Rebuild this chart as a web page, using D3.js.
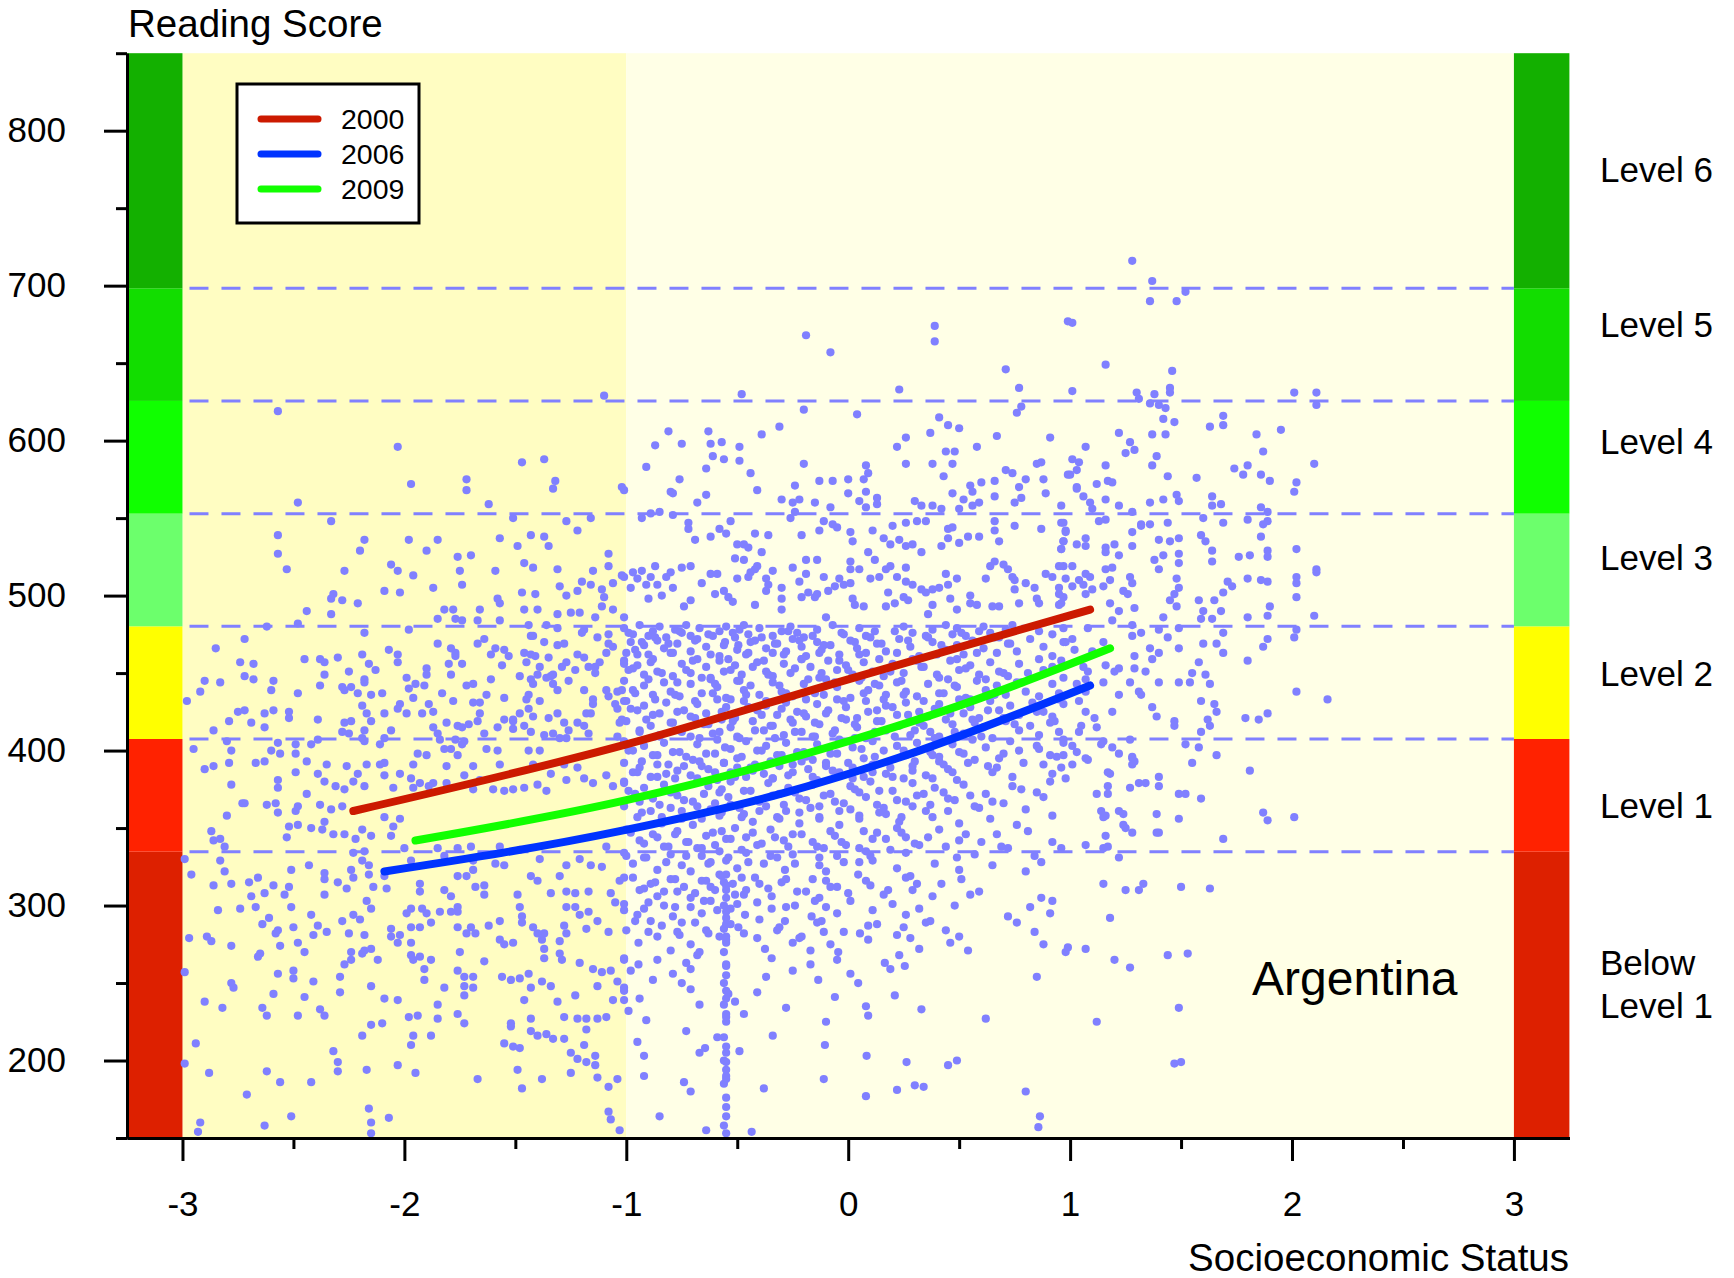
<!DOCTYPE html>
<html><head><meta charset="utf-8">
<script src="https://cdn.jsdelivr.net/npm/d3@7"></script>
<style>body{margin:0;background:#fff}svg{display:block;font-family:"Liberation Sans",Arial,sans-serif}</style>
</head><body><svg id="c" width="1734" height="1278"></svg>
<script>
// ---------------- data ----------------
const levelBounds = [150, 334.75, 407.47, 480.18, 552.89, 625.61, 698.32, 850];
const levelColors = ["#DD2000","#FF2200","#FFFF00","#6CFF6C","#10FF00","#12DD00","#13B000"];
const levelNames = [["Below","Level 1"],["Level 1"],["Level 2"],["Level 3"],["Level 4"],["Level 5"],["Level 6"]];
const levelLabelScores = [250,365,450,525,600,675,775];
const cutScores = [334.75, 407.47, 480.18, 552.89, 625.61, 698.32];
const xTicks = [-3,-2,-1,0,1,2,3];
const xMinorTicks = [-2.5,-1.5,-0.5,0.5,1.5,2.5];
const yTicks = [200,300,400,500,600,700,800];
const yMinorTicks = [150,250,350,450,550,650,750,850];
const years = ["2000","2006","2009"];
const yearColors = ["#CC1A00","#0033FF","#11FF00"];
const ses2000 = [-2.23,-1.0,0,1.09];
const score2000 = [361,404,446,491];
const ses2006 = [-2.09,-1.03,-0.28,0.22,1.09];
const score2006 = [322,348,373,395,442];
const ses2009 = [-1.95,-1.0,0,0.5,1.18];
const score2009 = [342,368,406,429,466];
const country = "Argentina";

const ptsLeftUpper = `-1.10,629 -2.57,619 -2.03,596 -1.97,572 -1.72,575 -1.72,568 -1.47,586 -1.37,588 -1.32,574 -1.33,569 -1.02,570 -2.48,560 -1.62,559 -2.33,548 -1.51,550 -1.27,548 -1.16,550 -1.22,542 -2.57,539 -2.57,527 -2.53,517 -2.18,536 -2.20,529 -2.27,516 -1.98,536 -1.90,529 -1.85,536 -2.06,520 -2.03,516 -1.96,513 -1.76,525 -1.70,526 -1.75,516 -1.74,507 -1.57,537 -1.49,532 -1.43,539 -1.37,538 -1.35,532 -1.46,521 -1.42,518 -1.31,517 -1.59,516 -1.08,527 -1.08,519 -1.15,516 -1.20,509 -1.16,507 -1.06,508 -1.02,513 -1.30,506 -1.27,500 -1.22,503 -1.11,504 -1.10,499 -1.11,493 -1.06,491 -1.01,486 -1.14,486 -1.25,489 -1.21,489 -1.31,488 -1.47,502 -1.41,501 -1.46,491 -1.40,491 -1.58,498 -1.57,495 -1.66,491 -1.57,484 -1.67,484 -1.78,491 -1.82,491 -1.85,485 -1.77,485 -1.74,484 -1.87,505 -2.09,503 -2.02,502 -2.21,495 -2.33,498 -2.32,501 -2.28,497 -2.33,488 -2.44,490 -2.48,482 -2.62,480 -2.18,476 -1.98,478 -2.72,472 -2.85,466 -2.74,457 -2.68,456 -2.72,448 -2.68,446 -2.90,445 -2.83,444 -2.92,438 -2.98,432 -2.59,445 -2.60,439 -2.48,437 -2.45,459 -2.38,459 -2.36,457 -2.36,449 -2.38,442 -2.30,460 -2.25,451 -2.28,441 -2.24,441 -2.27,439 -2.19,462 -2.16,456 -2.13,452 -2.18,446 -2.18,444 -2.21,437 -2.15,436 -2.10,437 -2.07,465 -2.03,462 -2.03,457 -1.99,447 -1.98,440 -1.95,443 -1.96,434 -1.90,449 -1.91,442 -1.90,453 -1.85,469 -1.79,466 -1.77,463 -1.77,461 -1.80,456 -1.79,449 -1.74,456 -1.72,442 -1.69,443 -1.83,437 -1.78,432 -1.67,469 -1.64,472 -1.59,466 -1.55,465 -1.53,461 -1.61,462 -1.56,455 -1.61,446 -1.63,436 -1.55,434 -1.69,431 -1.66,424
-1.46,463 -1.43,462 -1.41,461 -1.45,457 -1.39,454 -1.35,460 -1.33,449 -1.34,448 -1.29,454 -1.27,457 -1.22,462 -1.19,460 -1.23,452 -1.17,454 -1.14,454 -1.14,450
-1.48,448 -1.43,446 -1.42,443 -1.40,449 -1.36,447 -1.33,443 -1.31,439 -1.26,445 -1.44,436 -1.45,433 -1.39,432 -1.44,427 -1.19,439 -1.15,433 -1.15,430 -1.18,424 -1.16,424 -1.09,439 -1.04,438 -1.02,439 -1.08,435 -1.05,430 -1.01,432 -1.04,427 -1.02,420 -1.03,418 -1.08,469 -1.06,467 -1.09,463 -1.00,463 -1.12,457 -1.20,476 -1.19,478 -1.13,473 -1.08,475 -1.01,456 -1.36,481 -1.31,479 -1.37,470 -1.31,468 -1.28,469 -1.44,481 -1.43,474 -1.42,474
-1.48,424 -1.42,422 -1.46,416 -1.51,419 -1.35,421 -1.31,424 -1.28,418 -1.26,413 -1.22,418 -1.19,416 -1.17,411 -1.43,412 -1.37,410 -1.33,411 -1.30,408 -1.27,408 -1.04,409 -1.66,431 -1.67,419 -1.64,411 -1.71,417 -1.58,415 -1.55,420 -1.51,420 -1.51,414 -1.87,415 -1.85,411 -1.84,407 -1.81,418 -1.76,416 -1.74,415 -1.77,407 -1.73,406 -1.89,430 -1.87,425 -1.92,424 -2.02,430 -2.03,427 -1.99,424 -2.09,424 -2.19,429 -2.17,424 -2.15,419 -2.18,413 -2.27,418 -2.24,419 -2.28,412 -2.25,411 -2.19,408 -2.18,406 -2.11,404 -2.06,413 -2.09,408 -2.39,420 -2.39,407 -2.52,425 -2.52,421 -2.63,424 -2.59,426 -2.75,425 -2.72,426 -2.79,419 -2.86,413 -2.69,418 -2.63,415 -2.57,405 -2.49,404 -2.42,404 -2.80,406 -2.95,401 -2.78,400 -2.60,400 -2.56,398 -2.49,398 -1.94,398 -1.90,397 -1.82,401 -1.79,401 -1.74,404 -1.76,397 -1.63,401 -1.58,400 -1.44,400 -1.39,400`;

const ptsLeftLower = `-2.90,388 -2.86,390 -2.79,392 -2.67,392 -2.63,393 -2.49,386 -2.44,393 -2.39,385 -2.36,380 -2.35,391 -2.31,377 -2.26,390 -2.21,385 -2.23,380 -2.18,377 -2.17,391 -2.11,391 -2.09,384 -2.05,376 -2.02,385 -1.97,382 -1.96,376 -1.93,379 -1.89,377 -1.87,379 -1.81,379 -1.73,384 -1.69,375 -1.66,381 -1.60,375 -1.55,374 -1.51,375 -1.46,376 -1.40,378 -1.36,374 -1.34,385 -1.27,381 -1.22,389 -1.19,382 -1.15,379 -1.09,384 -1.06,377 -1.01,380 -1.28,391 -1.42,391 -1.57,391 -1.69,390 -1.81,390 -1.96,391 -2.09,392
-2.78,378 -2.73,366 -2.62,365 -2.57,381 -2.57,376 -2.58,366 -2.57,360 -2.48,364 -2.49,361 -2.44,372 -2.38,365 -2.36,354 -2.33,362 -2.28,364 -2.27,375 -2.52,351 -2.48,352 -2.42,350 -2.37,349 -2.32,346 -2.27,346 -2.22,343 -2.19,349 -2.15,345 -2.09,357 -2.06,345 -2.05,351 -2.02,356 -2.87,348 -2.86,342 -2.83,343 -2.81,338 -2.80,358 -2.72,366 -2.53,344
-2.99,330 -2.96,320 -2.83,329 -2.81,322 -2.78,314 -2.86,313 -2.70,315 -2.66,318 -2.63,308 -2.59,313 -2.54,307 -2.52,312 -2.51,323 -2.43,326 -2.36,321 -2.36,317 -2.36,307 -2.30,315 -2.26,311 -2.24,323 -2.23,318 -2.19,329 -2.16,326 -2.16,320 -2.23,334 -2.18,335 -2.14,312 -2.08,311 -2.09,319 -2.00,337 -1.97,329 -1.93,314 -1.93,309 -1.85,337 -1.82,332 -1.76,337 -1.70,338 -1.69,329 -1.69,323 -1.68,312 -1.64,313 -1.64,307 -1.57,338 -1.55,326 -1.59,327 -1.43,319 -1.40,316 -1.30,319 -1.27,326 -1.21,330 -1.16,326 -1.11,325 -1.09,338 -1.00,332 -1.03,316 -1.39,330 -1.48,336 -1.34,308 -1.27,309 -1.23,308 -1.17,309 -1.07,308 -1.49,307 -1.48,299 -1.76,319 -1.72,319 -1.82,310 -1.79,306 -1.84,296 -1.79,296 -1.76,296 -1.76,299 -1.97,298 -1.99,295 -1.92,298 -1.90,295 -1.88,289 -1.97,286 -1.93,286 -2.06,285 -2.06,280 -2.02,281 -2.03,276 -1.97,276
-2.97,279 -2.89,280 -2.87,277 -2.78,274 -2.84,297 -2.74,298 -2.69,306 -2.67,299 -2.64,288 -2.61,292 -2.57,284 -2.58,282 -2.56,274 -2.51,299 -2.50,286 -2.48,276 -2.45,270 -2.42,294 -2.39,287 -2.41,281 -2.35,283 -2.28,290 -2.25,282 -2.23,294 -2.20,291 -2.17,303 -2.15,298 -2.18,281 -2.18,271 -2.15,272 -2.19,269 -2.24,270 -2.24,265 -2.27,262 -2.12,265 -2.65,269 -2.66,267 -2.57,256 -2.50,258 -2.50,253 -2.41,251 -2.29,254 -2.29,244 -2.78,250 -2.77,247 -2.90,238 -2.82,234 -2.99,257 -2.64,234 -2.62,229 -2.59,243 -2.45,241 -2.48,229 -2.38,233 -2.36,229 -2.15,248 -2.09,240 -2.03,239 -2.15,223 -2.10,224 -2.19,216 -1.98,228 -1.94,229 -1.85,236 -1.85,227 -1.96,216 -1.88,216 -1.97,210 -1.76,230 -1.73,224 -1.73,242 -1.73,248 -1.69,247 -1.73,254 -1.69,254 -1.76,258 -1.82,247 -1.91,259 -1.91,252 -1.96,265 -1.93,267 -1.88,265 -1.97,268 -1.75,270 -1.64,264 -1.56,254 -1.52,252 -1.48,253 -1.44,256 -1.43,247 -1.38,251 -1.34,248 -1.46,239 -1.43,227 -1.52,224 -1.52,222 -1.43,219 -1.40,216 -1.36,217 -1.33,214 -1.28,214 -1.31,238 -1.28,228 -1.23,242 -1.22,227 -1.18,227 -1.13,227 -1.18,220 -1.55,211 -1.51,209 -1.48,208 -1.25,205 -1.22,201 -1.18,199 -1.14,203 -1.14,197 -1.19,210 -1.15,259 -1.11,257 -1.07,258 -1.13,248 -1.04,251 -1.01,247 -1.01,239 -1.06,239 -1.09,228 -1.01,265 -1.21,263 -1.29,265 -1.30,269 -1.37,266 -1.37,272 -1.38,278 -1.30,277 -1.27,282 -1.28,287 -1.21,294 -1.17,296 -1.13,290 -1.08,283 -1.05,302 -1.01,297 -1.18,285 -1.27,299 -1.23,299 -1.42,286 -1.40,282 -1.37,282 -1.47,293 -1.47,289 -1.57,278 -1.55,275 -1.51,276 -1.62,287 -1.57,290 -1.70,286 -1.72,282 -1.68,282 -1.76,286
-2.94,211 -2.88,192 -2.99,198 -2.71,178 -2.62,193 -2.56,186 -2.42,186 -2.32,206 -2.30,199 -2.30,193 -2.17,194 -2.03,197 -1.95,192 -1.67,188 -1.49,194 -1.47,182 -1.38,188 -1.25,192 -1.13,189 -1.08,183 -1.04,188 -2.92,160 -2.93,154 -2.63,158 -2.51,164 -2.16,169 -2.15,160 -2.15,153 -2.07,163 -1.08,167 -1.07,162 -1.03,155`;

const ptsMidUpper = `-0.19,668 -0.08,657 0.39,674 0.39,664 0.71,646 0.77,634 0.99,677 -0.48,630 0.23,633 -0.20,620 0.04,617 0.76,618 0.78,622 -0.81,606 -0.63,606 -0.87,597 -0.75,598 -0.62,598 -0.57,599 -0.61,590 -0.56,588 -0.49,596 -0.49,587 -0.39,604 -0.31,609 -0.91,583 -0.64,582 -0.76,575 -0.44,579 -0.20,585 -0.80,567 -0.79,566 -0.68,560 -0.64,565 -0.41,568 -1.01,568 -0.30,562 -0.25,560 -0.22,562 -0.24,571 -0.13,574 -0.07,574 0.00,575 0.07,575 0.09,579 0.08,584 -0.15,560 -0.08,557 0.00,566 0.05,561 0.08,567 0.13,563 0.13,559 0.08,557 0.22,596 0.26,602 0.26,585 0.37,605 0.41,615 0.45,610 0.50,608 0.44,593 0.48,593 0.47,585 0.38,585 0.58,596 0.67,603 0.91,602 0.43,577 0.55,571 0.60,573 0.56,567 0.59,560 0.30,561 0.33,558 0.38,558 0.42,556 0.47,566 0.52,562 0.66,574 0.66,564 0.71,581 0.74,579 0.80,575 0.77,570 0.78,563 0.75,560 0.85,585 0.87,586 0.88,575 0.89,566 0.96,558 0.99,578 0.50,556 0.56,558
-0.93,550 -0.89,553 -0.85,554 -0.79,552 -0.72,547 -0.72,543 -0.69,536 -0.62,538 -0.58,543 -0.55,540 -0.53,548 -0.50,533 -0.47,533 -0.45,531 -0.42,540 -0.39,528 -0.36,539 -0.26,550 -0.24,554 -0.21,539 -0.13,542 -0.11,548 -0.07,546 -0.05,544 0.01,541 0.02,535 0.11,542 0.16,537 0.19,533 0.20,545 0.23,536 0.26,547 0.31,548 0.35,548 0.26,532 0.29,533 0.33,528 0.42,532 0.45,543 0.47,544 0.45,537 0.50,534 0.54,538 0.59,538 0.66,548 0.66,542 0.68,535 0.75,545 0.87,543 0.96,547 0.97,535 0.96,530 0.98,542
-1.01,512 -0.97,515 -0.93,516 -0.95,511 -0.91,507 -0.89,512 -0.87,519 -0.86,507 -0.84,500 -0.80,515 -0.79,505 -0.75,518 -0.71,519 -0.71,497 -0.62,514 -0.59,514 -0.56,503 -0.54,499 -0.51,524 -0.50,511 -0.47,523 -0.45,512 -0.42,517 -0.42,494 -0.41,519 -0.37,511 -0.36,507 -0.34,516 -0.30,505 -0.30,498 -0.25,518 -0.21,499 -0.19,523 -0.19,514 -0.18,502 -0.14,523 -0.14,501 -0.11,512 -0.09,503 -0.10,486 -0.04,511 -0.02,507 0.01,522 0.01,517 0.01,508 0.02,498 0.05,517 0.07,493 0.09,528 0.12,523 0.14,512 0.17,517 0.17,493 0.19,519 0.21,495 0.22,512 0.25,499 0.26,509 0.26,518 0.29,507 0.33,504 0.35,502 0.38,504 0.41,505 0.38,494 0.44,514 0.46,498 0.49,511 0.49,491 0.55,495 0.58,494 0.62,511 0.64,519 0.66,522 0.68,493 0.70,520 0.72,517 0.74,512 0.75,504 0.77,495 0.80,508 0.84,505 0.86,495 0.89,514 0.92,512 0.95,501 0.97,519 0.96,495 0.98,511
-1.01,479 -0.97,475 -0.94,481 -0.90,474 -0.88,477 -0.85,480 -0.82,473 -0.78,478 -0.75,476 -0.73,481 -0.71,474 -0.67,479 -0.63,475 -0.58,477 -0.55,480 -0.51,473 -0.49,478 -0.47,481 -0.45,475 -0.40,479 -0.34,474 -0.30,477 -0.26,480 -0.23,476 -0.20,473 -0.14,478 -0.07,481 -0.02,475 0.05,479 0.08,474 0.12,477 0.25,480 0.29,476 0.36,473 0.38,478 0.44,481 0.47,475 0.49,479 0.53,474 0.59,477 0.61,480 0.64,476 0.68,473 0.71,478 0.74,481 0.92,475 0.97,479
-0.98,470 -0.96,465 -0.92,468 -0.90,462 -0.86,471 -0.83,466 -0.80,463 -0.77,469 -0.71,464 -0.68,472 -0.64,467 -0.58,461 -0.555,470 -0.50,465 -0.495,468 -0.46,462 -0.42,471 -0.37,466 -0.34,463 -0.32,469 -0.28,464 -0.25,472 -0.21,467 -0.19,461 -0.14,470 -0.12,465 -0.08,468 -0.04,462 0.01,471 0.04,466 0.08,463 0.13,469 0.17,464 0.23,472 0.28,467 0.32,461 0.38,470 0.44,465 0.49,468 0.52,462 0.56,471 0.61,466 0.67,463 0.72,469 0.76,464 0.82,472 0.88,467 0.92,461 0.97,470
-1.01,458 -0.99,452 -0.95,455 -0.92,449 -0.89,457 -0.86,451 -0.79,448 -0.75,456 -0.71,450 -0.68,459 -0.64,454 -0.62,447 -0.58,458 -0.53,452 -0.51,455 -0.48,449 -0.41,457 -0.37,451 -0.34,448 -0.29,456 -0.26,450 -0.21,459 -0.17,454 -0.13,447 -0.09,458 -0.05,452 -0.01,455 0.02,449 0.07,457 0.11,451 0.16,448 0.20,456 0.25,450 0.29,459 0.34,454 0.41,447 0.46,458 0.50,452 0.55,455 0.59,449 0.64,457 0.68,451 0.72,448 0.77,456 0.81,450 0.86,459 0.92,454 0.97,447
-1.01,445 -0.97,439 -0.92,442 -0.88,436 -0.83,444 -0.80,438 -0.76,435 -0.71,443 -0.66,437 -0.62,446 -0.59,441 -0.55,434 -0.50,445 -0.47,439 -0.44,442 -0.40,436 -0.34,444 -0.30,438 -0.25,435 -0.20,443 -0.15,437 -0.10,446 -0.05,441 0.01,434 0.05,445 0.09,439 0.14,442 0.17,436 0.22,444 0.26,438 0.31,435 0.36,443 0.41,437 0.45,446 0.49,441 0.53,434 0.58,445 0.62,439 0.67,442 0.71,436 0.76,444 0.80,438 0.86,435 0.92,443 0.95,437
-1.00,432 -0.95,426 -0.92,429 -0.88,423 -0.82,431 -0.77,425 -0.71,422 -0.68,430 -0.64,424 -0.59,433 -0.55,428 -0.51,421 -0.47,432 -0.41,426 -0.37,429 -0.32,423 -0.28,431 -0.23,425 -0.19,422 -0.14,430 -0.10,424 -0.05,433 -0.01,428 0.04,421 0.08,432 0.13,426 0.17,429 0.22,423 0.26,431 0.32,425 0.36,422 0.41,430 0.46,424 0.50,433 0.55,428 0.59,421 0.64,432 0.68,426 0.73,429 0.77,423 0.83,431 0.88,425 0.92,422 0.97,430
-1.00,419 -0.94,413 -0.89,416 -0.85,410 -0.80,418 -0.75,412 -0.71,409 -0.65,417 -0.61,411 -0.57,420 -0.53,415 -0.49,408 -0.43,419 -0.38,413 -0.34,416 -0.29,410 -0.25,418 -0.21,412 -0.16,409 -0.13,417 -0.07,411 -0.01,420 0.04,415 0.08,408 0.13,419 0.17,413 0.23,416 0.28,410 0.32,418 0.37,412 0.41,409 0.47,417 0.52,411 0.56,420 0.61,415 0.65,408 0.71,419 0.77,413 0.82,416 0.86,410 0.91,418 0.95,412
-1.01,406 -0.97,400 -0.92,403 -0.88,397 -0.83,405 -0.79,399 -0.73,396 -0.68,404 -0.64,398 -0.59,407 -0.555,402 -0.50,395 -0.46,406 -0.41,400 -0.37,403 -0.32,397 -0.28,405 -0.23,399 -0.19,396 -0.14,404 -0.08,398 -0.04,407 0.02,402 0.07,395 0.11,406 0.16,400 0.22,403 0.26,397 0.31,405 0.37,399 0.41,396 0.47,404 0.52,398 0.56,407 0.62,402 0.68,395 0.73,406 0.77,400 0.85,403 0.91,397 0.97,405`;

const ptsMidLower = `-1.01,392 -0.97,386 -0.94,389 -0.89,383 -0.86,391 -0.82,385 -0.78,382 -0.74,390 -0.71,384 -0.67,393 -0.63,388 -0.59,381 -0.56,392 -0.53,386 -0.50,389 -0.46,383 -0.42,391 -0.38,385 -0.34,382 -0.31,390 -0.27,384 -0.21,393 -0.18,388 -0.14,381 -0.10,392 -0.04,386 0.02,389 0.07,383 0.11,391 0.17,385 0.25,382 0.29,390 0.35,384 0.41,393 0.45,388 0.49,381 0.54,392 0.65,386 0.67,389 0.74,383 0.88,391 0.92,385 0.98,382
-1.01,379 -0.96,372 -0.92,376 -0.88,369 -0.83,378 -0.77,371 -0.70,367 -0.63,377 -0.58,373 -0.53,380 -0.47,374 -0.41,368 -0.36,379 -0.31,372 -0.27,376 -0.22,369 -0.16,378 -0.11,371 -0.06,367 0.01,377 0.05,373 0.10,380 0.14,374 0.22,368 0.29,379 0.34,372 0.39,376 0.45,369 0.52,378 0.55,371 0.65,367 0.74,377 0.85,373 0.91,380
-1.01,364 -0.95,357 -0.89,361 -0.84,353 -0.80,363 -0.75,356 -0.70,352 -0.62,362 -0.58,358 -0.53,365 -0.47,359 -0.43,354 -0.37,364 -0.32,357 -0.28,361 -0.22,353 -0.17,363 -0.13,356 -0.04,352 0.01,362 0.05,358 0.13,365 0.17,359 0.23,354 0.29,364 0.38,357 0.45,361 0.50,353 0.59,363 0.64,356 0.76,352 0.80,362 0.92,358
-1.00,349 -0.94,342 -0.88,346 -0.83,338 -0.77,348 -0.72,341 -0.66,337 -0.61,347 -0.55,343 -0.51,350 -0.46,344 -0.41,339 -0.35,349 -0.29,342 -0.25,346 -0.14,338 -0.08,348 -0.03,341 0.05,337 0.13,347 0.17,343 0.22,350 0.26,344 0.32,339 0.41,349 0.50,342 0.67,346 0.69,338 0.81,348 0.92,341
-1.01,334 -0.97,327 -0.91,331 -0.86,323 -0.80,333 -0.75,326 -0.71,322 -0.66,332 -0.62,328 -0.58,335 -0.55,329 -0.50,324 -0.46,334 -0.38,327 -0.32,331 -0.285,323 -0.25,333 -0.13,326 -0.10,322 -0.05,332 0.05,328 0.08,335 0.11,329 0.22,324 0.26,334 0.39,327 0.49,331 0.50,323 0.57,333 0.65,326 0.80,322 0.84,332 0.87,328
-1.01,318 -0.94,310 -0.89,314 -0.86,306 -0.80,317 -0.77,309 -0.71,305 -0.66,316 -0.62,312 -0.58,320 -0.55,313 -0.51,307 -0.48,318 -0.46,310 -0.40,314 -0.345,306 -0.28,317 -0.19,309 -0.13,305 -0.10,316 -0.05,312 0.045,320 0.10,313 0.16,307 0.26,318 0.29,310 0.31,314 0.38,306 0.51,317 0.59,309 0.87,305
-1.01,301 -0.95,294 -0.92,298 -0.89,290 -0.83,300 -0.79,293 -0.75,289 -0.71,299 -0.66,295 -0.62,303 -0.59,297 -0.55,288 -0.50,301 -0.465,294 -0.345,298 -0.285,290 -0.24,300 -0.165,293 -0.14,289 -0.10,299 -0.05,295 0.01,303 0.11,297 0.13,288 0.20,301 0.26,294 0.32,298 0.37,290 0.48,300 0.72,293 0.76,289 0.82,299 0.91,295 0.92,303
-1.00,284 -0.945,276 -0.86,280 -0.80,271 -0.77,283 -0.71,275 -0.67,270 -0.63,282 -0.55,278 -0.495,286 -0.41,279 -0.375,272 -0.32,284 -0.25,276 -0.21,280 -0.17,271 -0.11,283 -0.08,275 -0.045,270 0.053,282 0.09,278 0.25,286 0.28,279 0.32,272 0.44,284 0.46,276 0.50,280 0.54,271 0.84,283 0.88,275 0.98,270
-1.01,266 -0.98,258 -0.945,262 -0.88,252 -0.86,265 -0.79,256 -0.75,250 -0.73,263 -0.71,259 -0.68,268 -0.55,261 -0.37,254 -0.345,266 -0.25,258 -0.17,262 -0.135,252 -0.05,265 0.01,256 0.045,250 0.165,263 0.19,259 0.23,268 0.255,261 0.85,254
-1.01,245 -0.99,232 -0.94,240 -0.91,226 -0.71,246 -0.67,236 -0.55,228 -0.54,243 -0.51,238 -0.47,230 -0.41,244 -0.28,234 -0.10,225 -0.06,241 0.08,235 0.09,229 0.21,242 0.33,233 0.62,227
-0.95,212 -0.92,203 -0.73,219 -0.67,205 -0.645,208 -0.59,215 -0.55,199 -0.49,206 -0.34,216 -0.105,210 0.083,203 0.263,199 0.45,197 0.49,200
-0.92,190 -0.74,186 -0.71,180 -0.55,188 -0.38,182 -0.11,188 0.08,177 0.22,181 0.30,184 0.34,183 0.80,180
-0.85,164 -0.64,155 -0.55,170 -0.55,164 -0.56,158 -0.55,153 -0.435,154 0.864,164 0.857,157
-0.55,320 -0.56,315 -0.55,310 -0.55,305 -0.56,300 -0.55,296 -0.55,292 -0.56,285 -0.55,280 -0.55,276 -0.56,270 -0.55,262 -0.55,255 -0.56,250 -0.55,245 -0.55,240 -0.56,236 -0.55,230 -0.55,225 -0.56,215 -0.55,209 -0.55,205 -0.56,200 -0.55,194 -0.55,190 -0.56,185 -0.55,176`;

const ptsCore = `-0.99,476 -0.93,470 -0.87,473 -0.81,469 -0.76,477 -0.69,471 -0.61,474 -0.56,468 -0.52,476 -0.44,470 -0.39,473 -0.33,469 -0.27,477 -0.22,471 -0.16,474 -0.11,468 -0.03,476 0.03,470 0.10,473 0.15,469 0.21,477 0.27,471 0.35,474 0.42,468 0.51,476 0.58,470 0.66,473 0.73,469 0.86,477
-0.97,453 -0.90,446 -0.84,450 -0.77,444 -0.73,452 -0.66,447 -0.60,443 -0.56,451 -0.49,445 -0.43,454 -0.36,449 -0.31,442 -0.24,453 -0.18,446 -0.12,450 -0.06,444 0.00,452 0.06,447 0.12,443 0.19,451 0.24,445 0.33,454 0.40,449 0.48,442 0.53,453 0.62,446 0.70,450 0.78,444 0.88,452
-0.98,427 -0.91,420 -0.85,424 -0.79,418 -0.74,426 -0.69,421 -0.63,417 -0.57,425 -0.52,419 -0.45,428 -0.39,423 -0.35,416 -0.30,427 -0.26,420 -0.20,424 -0.15,418 -0.09,426 -0.03,421 0.03,417 0.09,425 0.15,419 0.20,428 0.27,423 0.34,416 0.39,427 0.44,420 0.52,424 0.57,418 0.63,426 0.70,421 0.75,417 0.85,425 0.93,419
-0.99,400 -0.93,393 -0.86,397 -0.81,391 -0.76,399 -0.70,394 -0.66,390 -0.60,398 -0.56,392 -0.53,401 -0.48,396 -0.44,389 -0.39,400 -0.35,393 -0.30,397 -0.25,391 -0.20,399 -0.16,394 -0.10,390 -0.05,398 0.00,392 0.06,401 0.12,396 0.19,389 0.25,400 0.30,393 0.38,397 0.43,391 0.50,399 0.57,394 0.63,390 0.70,398 0.79,392 0.86,401 0.94,396
-0.99,374 -0.94,367 -0.90,371 -0.85,365 -0.80,373 -0.74,368 -0.68,364 -0.65,372 -0.60,366 -0.57,375 -0.54,370 -0.49,363 -0.44,374 -0.40,367 -0.34,371 -0.29,365 -0.24,373 -0.19,368 -0.13,364 -0.08,372 -0.02,366 0.03,375 0.08,370 0.16,363 0.20,374 0.26,367 0.31,371 0.37,365 0.43,373 0.48,368 0.57,364 0.62,372 0.70,366 0.78,375 0.88,370
-0.98,347 -0.92,340 -0.86,344 -0.81,338 -0.78,346 -0.73,341 -0.68,337 -0.64,345 -0.60,339 -0.57,348 -0.53,343 -0.48,336 -0.43,347 -0.39,340 -0.33,344 -0.27,338 -0.21,346 -0.16,341 -0.11,337 -0.06,345 -0.01,339 0.07,348 0.11,343 0.19,336 0.24,347 0.30,340 0.36,344 0.44,338 0.53,346 0.60,341 0.72,337
-0.97,318 -0.92,311 -0.87,315 -0.83,309 -0.78,317 -0.74,312 -0.69,308 -0.64,316 -0.60,310 -0.57,319 -0.52,314 -0.47,307 -0.42,318 -0.36,311 -0.30,315 -0.23,309 -0.16,317 -0.08,312 0.00,308 0.08,316 0.18,310 0.28,319 0.42,314 0.55,307
-0.96,290 -0.90,283 -0.84,287 -0.76,281 -0.69,289 -0.64,284 -0.58,280 -0.53,288 -0.47,282 -0.40,291 -0.31,286 -0.22,279 -0.12,290 -0.02,283 0.09,287 0.22,281 0.35,289
-0.98,505 -0.90,498 -0.82,512 -0.74,493 -0.66,508 -0.60,501 -0.52,496 -0.44,515 -0.37,503 -0.30,491 -0.22,509 -0.15,499 -0.06,506 0.03,494 0.10,511 0.18,502 0.27,497 0.36,488 0.45,507 0.55,500 0.65,493 0.75,510 0.85,498 0.95,505
-0.95,462 -0.88,459 -0.79,463 -0.70,458 -0.62,462 -0.54,459 -0.45,463 -0.38,458 -0.29,462 -0.21,459 -0.13,463 -0.04,458 0.05,462 0.14,459 0.22,463 0.31,458 0.40,462 0.49,459 0.58,463
-0.96,437 -0.87,433 -0.78,436 -0.69,432 -0.61,437 -0.53,433 -0.46,436 -0.37,432 -0.28,437 -0.19,433 -0.11,436 -0.02,432 0.07,437 0.16,433 0.25,436 0.34,432 0.43,437 0.55,433 0.66,436
-0.94,412 -0.85,409 -0.76,413 -0.67,408 -0.58,412 -0.50,409 -0.42,413 -0.33,408 -0.24,412 -0.15,409 -0.06,413 0.03,408 0.12,412 0.21,409 0.30,413 0.39,408 0.48,412 0.60,409
-0.95,386 -0.86,383 -0.77,387 -0.68,382 -0.60,386 -0.51,383 -0.43,387 -0.34,382 -0.25,386 -0.16,383 -0.07,387 0.02,382 0.11,386 0.20,383 0.29,387 0.38,382 0.47,386
-0.93,360 -0.84,357 -0.75,361 -0.66,356 -0.57,360 -0.48,357 -0.40,361 -0.31,356 -0.22,360 -0.13,357 -0.04,361 0.05,356 0.14,360 0.24,357 0.35,361
-0.92,331 -0.82,328 -0.73,332 -0.63,327 -0.54,331 -0.45,328 -0.35,332 -0.24,327 -0.13,331 -0.02,328 0.10,332
-0.90,302 -0.78,299 -0.65,303 -0.53,298 -0.41,302 -0.28,299 -0.15,303`;

const ptsRightUpper = `1.28,716 1.37,703 1.36,690 1.48,690 1.52,696 1.01,676 1.16,649 1.46,645 1.01,632 1.30,631 1.31,627 1.38,630 1.36,624 1.40,623 1.45,634 1.45,631 1.43,621 1.42,614 1.47,612 2.01,631 2.11,631 2.11,623 1.69,616 1.69,610 1.63,609 1.22,605 1.27,599 1.29,594 1.25,592 1.37,604 1.43,604 1.39,590 1.37,584 1.84,604 1.87,593 1.95,607 1.07,596 1.01,588 1.04,586 1.03,581 1.00,578 1.16,584 1.17,574 1.19,573 1.12,572 1.03,570 1.03,569 1.44,577 1.57,576 1.74,582 1.80,584 1.78,578 1.86,578 1.90,574 2.10,585 2.02,573 2.01,567
1.06,564 1.09,560 1.10,556 1.16,562 1.16,549 1.13,548 1.22,558 1.28,554 1.36,560 1.42,562 1.48,565 1.49,561 1.64,564 1.64,558 1.68,559 1.86,557 1.89,554 1.80,549 1.89,548 1.60,550 1.36,546 1.44,547 1.32,546 0.97,547 0.98,541 0.97,535 1.03,533 1.07,537 1.07,532 0.96,530 0.95,519
1.16,531 1.16,528 1.20,533 1.22,526 1.28,532 1.28,541 1.32,545 1.40,536 1.45,535 1.49,537 1.49,527 1.49,521 1.38,523 1.42,526 1.40,517 1.59,539 1.61,535 1.64,529 1.64,522 1.69,547 1.76,525 1.81,526 1.86,538 1.89,529 1.89,525 1.87,546 2.02,530 2.11,517
1.01,519 1.04,510 1.01,506 1.06,507 1.07,514 1.09,512 1.10,504 1.15,506 1.18,510 1.16,517 1.19,518 1.27,512 1.28,508 1.24,503 1.26,501 1.29,492 1.18,495 1.22,490 1.19,484 0.97,499 0.95,494 1.07,501 1.08,479
1.48,511 1.49,505 1.47,501 1.48,493 1.45,497 1.42,486 1.49,479 1.40,478 1.44,473 1.58,497 1.65,497 1.69,502 1.71,509 1.73,506 1.60,490 1.59,485 1.64,485 1.68,490 1.80,511 1.80,486 1.86,510 1.89,509 1.90,493 1.89,487 2.02,508 2.02,499 2.02,512 2.11,515 2.10,487 2.02,478 1.80,458 1.89,472 1.87,467 2.01,473 1.69,476 1.66,469 1.69,463 1.60,469 1.49,466 1.40,463 1.36,466 1.37,459 1.34,451 1.29,461 1.29,453 1.22,453 1.20,451 1.16,455 1.28,474 1.32,476 1.28,481 1.15,470 1.10,464 1.08,451 1.06,454 1.07,446 1.01,472 0.98,470 1.02,465 0.96,458
1.15,444 1.03,443 1.07,438 0.95,433 1.04,432 1.07,425 1.11,421 1.12,415 1.05,416 1.04,412 1.19,425 1.22,436 1.27,444 1.31,438 1.32,436 1.37,428 1.39,422 1.40,444 1.49,444 1.54,444 1.55,450 1.58,457 1.61,449 1.63,443 1.59,432 1.65,430 1.66,425 1.62,420 1.63,416 1.47,419 1.47,416 1.59,412 1.79,421 1.85,420 1.89,424 2.02,438 2.16,433 1.15,406 1.19,402 1.27,407 1.22,398 1.14,404
0.97,407 1.01,403 1.07,395 1.03,399 0.97,397 1.28,396 1.52,404 1.58,402 1.66,397 1.28,395`;

const ptsRightLower = `1.01,391 1.08,394 0.96,389 1.28,391 1.29,393 1.55,392 1.81,387 1.18,385 1.17,386 1.40,383 1.40,377 1.31,379 1.34,379 1.27,376 1.17,377 1.17,372 1.12,372 1.49,372 1.52,372 1.59,369 1.14,361 1.15,357 1.16,358 1.22,361 1.24,359 1.24,352 1.25,350 1.28,347 1.39,359 1.39,347 1.40,347 1.49,356 1.69,343 1.87,360 1.89,355 2.01,357 1.16,345 1.17,338 1.07,339 1.15,337 0.96,337 1.22,331 1.15,314 1.25,310 1.31,310 1.33,314 1.50,312 1.63,311 1.18,292 0.99,273 1.07,272 1.20,265 1.27,260 1.44,268 1.53,269 1.49,234 1.12,225 1.47,198 1.50,199`;

// ---------------- drawing ----------------
const parsePts = s => s.trim().split(/\s+/).map(p => p.split(",").map(Number));
const allPts = [ptsLeftUpper, ptsLeftLower, ptsMidUpper, ptsMidLower, ptsCore, ptsRightUpper, ptsRightLower].flatMap(parsePts);

const svg = d3.select("#c");
const FONT = '"Liberation Sans", Arial, sans-serif';
const x = d3.scaleLinear().domain([-3.25, 3.25]).range([127, 1569.4]);
const y = d3.scaleLinear().domain([150, 850]).range([1138, 53.2]);
const fmt = d => String(d);

// background regions
svg.append("rect").attr("x", x(-3)).attr("y", y(850)).attr("width", x(-1) - x(-3)).attr("height", y(150) - y(850)).attr("fill", "#FFFDC2");
svg.append("rect").attr("x", x(-1)).attr("y", y(850)).attr("width", x(3) - x(-1)).attr("height", y(150) - y(850)).attr("fill", "#FFFFE6");

// level bands on both sides
const bands = levelColors.map((c, i) => ({c, lo: levelBounds[i], hi: levelBounds[i + 1]}));
[[-3.25, -3], [3, 3.25]].forEach(([a, b]) => {
  svg.append("g").selectAll("rect").data(bands).join("rect")
    .attr("x", x(a)).attr("width", x(b) - x(a))
    .attr("y", d => y(d.hi)).attr("height", d => y(d.lo) - y(d.hi))
    .attr("fill", d => d.c);
});

// dashed cut lines
svg.append("g").selectAll("line").data(cutScores).join("line")
  .attr("x1", x(-3)).attr("x2", x(3)).attr("y1", d => y(d)).attr("y2", d => y(d))
  .attr("stroke", "#8080FF").attr("stroke-width", 3)
  .attr("stroke-dasharray", "19,13").attr("stroke-dashoffset", 25);

// scatter
svg.append("g").selectAll("circle").data(allPts).join("circle")
  .attr("cx", d => x(d[0])).attr("cy", d => y(d[1])).attr("r", 4.1).attr("fill", "#8080FF");

// regression curves
const lineGen = d3.line().x(d => x(d[0])).y(d => y(d[1])).curve(d3.curveMonotoneX);
const curves = [d3.zip(ses2000, score2000), d3.zip(ses2006, score2006), d3.zip(ses2009, score2009)];
[1, 2, 0].forEach(i => {
  svg.append("path").attr("d", lineGen(curves[i])).attr("fill", "none")
    .attr("stroke", yearColors[i]).attr("stroke-width", 8).attr("stroke-linecap", "round");
});

// axes
const yAxis = svg.append("g").attr("transform", `translate(${x(-3.25)},0)`)
  .call(d3.axisLeft(y).tickValues(yTicks).tickSize(23).tickPadding(38).tickSizeOuter(0).tickFormat(fmt));
svg.append("g").attr("transform", `translate(${x(-3.25)},0)`)
  .call(d3.axisLeft(y).tickValues(yMinorTicks).tickSize(11).tickSizeOuter(0).tickFormat(""));
const xAxis = svg.append("g").attr("transform", `translate(0,${y(150)})`)
  .call(d3.axisBottom(x).tickValues(xTicks).tickSize(23).tickSizeOuter(0).tickFormat(fmt));
svg.append("g").attr("transform", `translate(0,${y(150)})`)
  .call(d3.axisBottom(x).tickValues(xMinorTicks).tickSize(11).tickSizeOuter(0).tickFormat(""));
svg.selectAll(".domain, .tick line").attr("stroke", "#000").attr("stroke-width", 3);
yAxis.selectAll("text").attr("font-size", 35).attr("font-family", FONT).attr("fill", "#000");
xAxis.selectAll("text").attr("font-size", 35).attr("font-family", FONT).attr("fill", "#000")
  .attr("dy", null).attr("y", 78);

// titles
svg.append("text").attr("x", 128).attr("y", 37).attr("font-size", 38.5).attr("font-family", FONT).text("Reading Score");
svg.append("text").attr("x", 1569).attr("y", 1271).attr("text-anchor", "end").attr("font-size", 38.5).attr("font-family", FONT).text("Socioeconomic Status");
svg.append("text").attr("x", x(1.82)).attr("y", 995).attr("font-size", 48).attr("font-family", FONT).text(country);

// level labels
levelNames.forEach((lines, i) => {
  const cy = y(levelLabelScores[i]);
  const t = svg.append("text").attr("font-size", 35).attr("font-family", FONT).attr("dominant-baseline", "central");
  lines.forEach((ln, j) => {
    t.append("tspan").attr("x", 1600).attr("y", cy + (j - (lines.length - 1) / 2) * 43).text(ln);
  });
});

// legend
const lg = svg.append("g");
lg.append("rect").attr("x", 237).attr("y", 84).attr("width", 182).attr("height", 139)
  .attr("fill", "#fff").attr("stroke", "#000").attr("stroke-width", 3);
years.forEach((yr, i) => {
  const ly = 119 + i * 35;
  lg.append("line").attr("x1", 261).attr("x2", 318).attr("y1", ly).attr("y2", ly)
    .attr("stroke", yearColors[i]).attr("stroke-width", 7).attr("stroke-linecap", "round");
  lg.append("text").attr("x", 341).attr("y", ly).attr("dominant-baseline", "central")
    .attr("font-size", 28.5).attr("font-family", FONT).text(yr);
});
</script></body></html>
